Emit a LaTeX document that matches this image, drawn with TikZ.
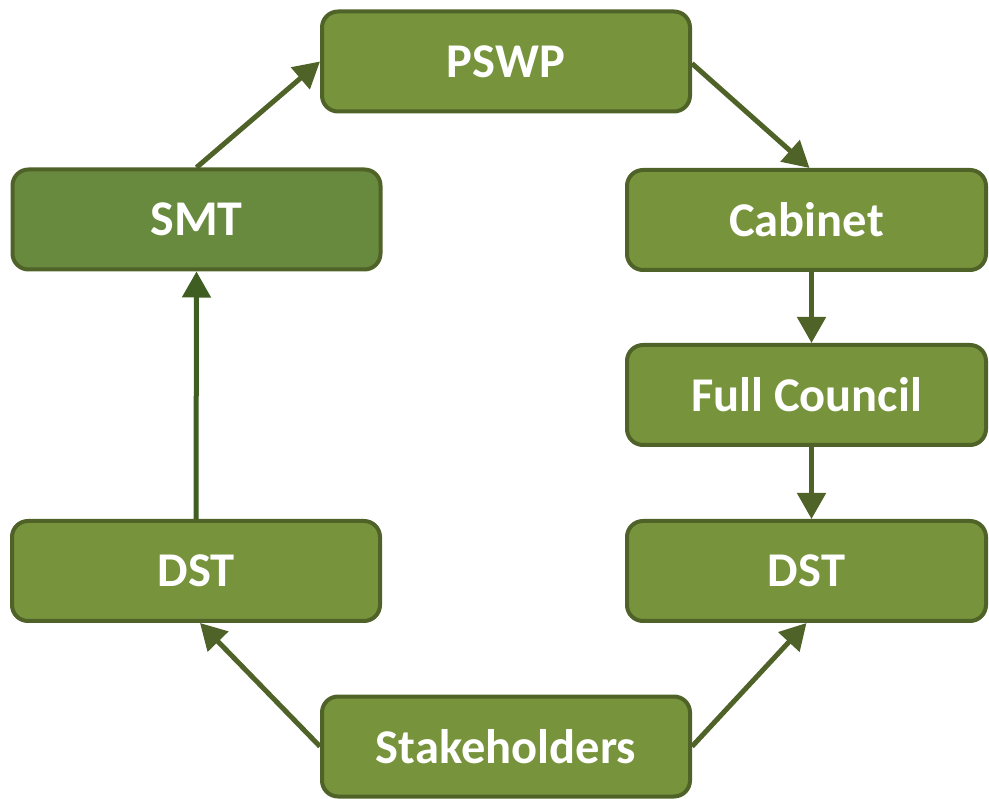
\documentclass[tikz,border=0pt]{standalone}
\usepackage{fontspec}
\setmainfont{Carlito}
\usetikzlibrary{arrows.meta}
\definecolor{boxfill}{HTML}{77933C}
\definecolor{smtfill}{HTML}{688A3F}
\definecolor{boxline}{HTML}{4F6228}
\definecolor{darkline}{HTML}{3E5E22}
\begin{document}
\begin{tikzpicture}[x=1pt,y=-1pt,
  box/.style={draw=boxline, line width=4pt, fill=boxfill, rounded corners=16pt,
    minimum width=368pt, minimum height=100pt, inner sep=0pt,
    text=white, font=\fontsize{48.5}{52}\selectfont\bfseries},
  rbox/.style={box, minimum width=359pt},
  arr/.style={draw=boxline, line width=5pt, -{Triangle[length=26pt,width=28pt]}}]
\useasboundingbox (0,0) rectangle (989,799);
\node[box] (pswp) at (506,61.5) {PSWP};
\node[box, fill=smtfill, font=\fontsize{50}{54}\selectfont\bfseries] (smt) at (196.5,219.5) {SMT};
\node[rbox] (cab) at (806.5,220) {Cabinet};
\node[rbox] (fc) at (806.5,395) {Full Council};
\node[box] (dstl) at (196,571) {DST};
\node[rbox] (dstr) at (806.5,571) {DST};
\node[box] (stake) at (506,746.5) {Stakeholders};
\draw[arr] (smt.north) -- (pswp.west);
\draw[arr] ([yshift=-2pt]pswp.east) -- ([xshift=3pt]cab.north);
\draw[arr] ([xshift=5pt]cab.south) -- ([xshift=5pt]fc.north);
\draw[arr] ([xshift=5pt]fc.south) -- ([xshift=5pt]dstr.south |- dstr.north);
\draw[arr, draw=darkline] (dstl.north) -- (smt.south);
\draw[arr] (stake.west) -- ([xshift=4pt]dstl.south);
\draw[arr] (stake.east) -- (dstr.south);
\end{tikzpicture}
\end{document}
